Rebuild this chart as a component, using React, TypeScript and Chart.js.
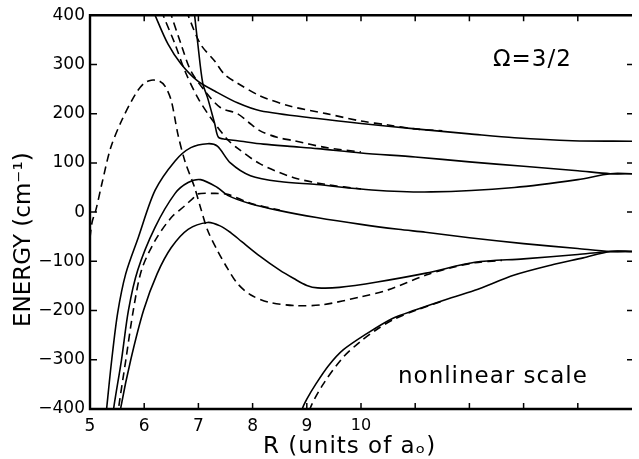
import React, { useEffect, useRef } from "react";
import { Chart, registerables } from "chart.js";

Chart.register(...registerables);

// x values are positions on the (nonlinear) R axis: 0 ↔ R=5, 1 ↔ 6, ... 5 ↔ 10, 10 ↔ R→∞
const xTickLabels = ["5", "6", "7", "8", "9", "10", "", "", "", "", ""];
const yMin = -400;
const yMax = 400;

// solid (adiabatic) curves
const s1X = [1.16, 1.2, 1.44, 1.68, 1.99, 2.3, 2.72, 3.14, 4.2, 5.0, 6.0, 7.0, 7.83, 8.9, 10];
const s1E = [412, 400, 341, 301, 266, 246, 222, 206, 190, 180, 169, 159, 151, 145, 144];

const s2X = [1.92, 1.99, 2.08, 2.17, 2.3, 2.37, 2.5, 2.72, 3.2, 3.76, 4.2, 5, 6, 7, 8, 9, 9.6, 10];
const s2E = [410, 341, 262, 232, 180, 152, 148, 145, 138, 133, 129, 120, 112, 102, 93, 84, 78, 78];

const s3X = [0.29, 0.31, 0.4, 0.51, 0.66, 0.89, 1.2, 1.57, 1.86, 2.17, 2.35, 2.59, 2.96, 3.5, 4.18, 5.2, 6.3, 7.83, 9.0, 9.6, 10];
const s3E = [-420, -396, -301, -205, -125, -52, 44, 104, 131, 139, 134, 100, 74, 62, 56, 45, 41, 50, 66, 78, 78];

const s4X = [0.42, 0.44, 0.58, 0.71, 0.88, 1.2, 1.57, 1.81, 2.04, 2.35, 2.54, 2.96, 3.5, 4.18, 5, 5.69, 6.19, 7, 8, 9, 9.6, 10];
const s4E = [-420, -396, -301, -199, -118, -31, 38, 60, 66, 50, 34, 17, 3, -11, -25, -35, -41, -52, -64, -74, -80, -80];

const s5X = [0.55, 0.57, 0.75, 0.99, 1.24, 1.5, 1.81, 2.17, 2.4, 2.6, 2.8, 3.14, 3.5, 3.76, 4.0, 4.2, 4.6, 5.3, 6.2, 7.1, 8, 9, 9.6, 10];
const s5E = [-420, -396, -301, -199, -125, -72, -35, -21, -28, -42, -60, -90, -118, -135, -149, -154, -153, -142, -124, -102, -95, -86, -80, -80];

const s6X = [3.88, 3.91, 4.0, 4.18, 4.4, 4.67, 5.09, 5.58, 6.0, 6.5, 7.1, 7.83, 8.5, 9.1, 9.6, 10];
const s6E = [-430, -402, -380, -347, -312, -280, -248, -216, -199, -180, -159, -128, -108, -93, -80, -80];

// dashed (diabatic) curves
const d0X = [0, 0.04, 0.11, 0.22, 0.38, 0.58, 0.84, 1.0, 1.13, 1.28, 1.39, 1.5, 1.62, 1.75, 1.93, 2.04, 2.17, 2.35, 2.54, 2.72, 2.96, 3.3, 3.8, 4.3, 5, 5.5, 6.2, 6.7, 7.1, 7.6];
const d0E = [-52, -20, 5, 58, 130, 185, 240, 262, 268, 266, 255, 226, 159, 104, 50, 9, -37, -78, -115, -145, -168, -183, -190, -188, -172, -158, -128, -112, -103, -98];

const d1X = [1.79, 1.81, 2.04, 2.3, 2.48, 2.72, 3.14, 3.7, 4.36, 5.0, 5.5, 6.0, 6.5];
const d1E = [410, 400, 341, 307, 280, 262, 236, 215, 200, 185, 177, 169, 165];

const d2X = [1.48, 1.5, 1.68, 1.86, 2.12, 2.41, 2.72, 2.93, 3.14, 3.45, 3.76, 4.36, 5.0];
const d2E = [410, 400, 341, 287, 246, 212, 200, 182, 165, 152, 145, 131, 122];

const d3X = [1.33, 1.35, 1.57, 1.75, 1.99, 2.23, 2.54, 2.72, 3.14, 3.76, 4.36, 5.0];
const d3E = [410, 400, 341, 287, 232, 191, 147, 130, 98, 70, 56, 47];

const d4X = [0.51, 0.53, 0.66, 0.8, 0.95, 1.2, 1.5, 1.75, 1.9, 1.99, 2.26, 2.54, 2.96, 3.5];
const d4E = [-420, -396, -301, -199, -118, -58, -11, 13, 28, 37, 38, 36, 18, 4];

const d6X = [4.03, 4.05, 4.3, 4.67, 5.0, 5.27, 5.6, 6.0, 6.5];
const d6E = [-430, -402, -350, -295, -262, -240, -218, -200, -181];

const curves = [
  { xs: s1X, ys: s1E, dashed: false },
  { xs: s2X, ys: s2E, dashed: false },
  { xs: s3X, ys: s3E, dashed: false },
  { xs: s4X, ys: s4E, dashed: false },
  { xs: s5X, ys: s5E, dashed: false },
  { xs: s6X, ys: s6E, dashed: false },
  { xs: d0X, ys: d0E, dashed: true },
  { xs: d1X, ys: d1E, dashed: true },
  { xs: d2X, ys: d2E, dashed: true },
  { xs: d3X, ys: d3E, dashed: true },
  { xs: d4X, ys: d4E, dashed: true },
  { xs: d6X, ys: d6E, dashed: true },
];

const FONT = '"DejaVu Sans", "Liberation Sans", sans-serif';

const framePlugin = {
  id: "frameAndText",
  afterDraw(chart: any) {
    const { ctx, chartArea } = chart;
    const { left, right, top, bottom } = chartArea;
    const xs = chart.scales.x;
    const ys = chart.scales.y;
    ctx.save();
    ctx.strokeStyle = "#000";
    ctx.lineWidth = 2.4;
    ctx.beginPath();
    ctx.moveTo(right, top);
    ctx.lineTo(left, top);
    ctx.lineTo(left, bottom);
    ctx.lineTo(right, bottom);
    ctx.stroke();

    ctx.lineWidth = 1.5;
    ctx.beginPath();
    for (let v = 1; v < 10; v++) {
      const px = xs.getPixelForValue(v);
      ctx.moveTo(px, bottom);
      ctx.lineTo(px, bottom - 6);
      ctx.moveTo(px, top);
      ctx.lineTo(px, top + 6);
    }
    for (let v = -300; v <= 300; v += 100) {
      const py = ys.getPixelForValue(v);
      ctx.moveTo(left, py);
      ctx.lineTo(left + 7, py);
      ctx.moveTo(right, py);
      ctx.lineTo(right - 5, py);
    }
    ctx.stroke();

    ctx.fillStyle = "#000";
    ctx.textAlign = "left";
    ctx.textBaseline = "alphabetic";
    ctx.font = `23px ${FONT}`;
    (ctx as any).letterSpacing = "1px";
    ctx.fillText("Ω=3/2", 493, 66);
    ctx.fillText("nonlinear scale", 398, 383);
    ctx.fillText("R (units of aₒ)", 263, 453);
    (ctx as any).letterSpacing = "0px";
    ctx.translate(30, 327);
    ctx.rotate(-Math.PI / 2);
    ctx.fillText("ENERGY (cm⁻¹)", 0, 0);
    ctx.restore();
  },
};

export default function App() {
  const canvasRef = useRef<HTMLCanvasElement | null>(null);

  useEffect(() => {
    if (!canvasRef.current) return;
    const datasets = curves.map((c) => ({
      data: c.xs.map((x, i) => ({ x, y: c.ys[i] })),
      borderColor: "#000",
      borderWidth: 1.6,
      borderDash: c.dashed ? [8, 5] : [],
      pointRadius: 0,
      fill: false,
      tension: 0.3,
    }));
    const chart = new Chart(canvasRef.current, {
      type: "line",
      data: { datasets },
      options: {
        responsive: false,
        animation: false,
        devicePixelRatio: 1,
        layout: { padding: { top: 14, right: 0, left: 0, bottom: 0 } },
        plugins: { legend: { display: false }, tooltip: { enabled: false } },
        scales: {
          x: {
            type: "linear",
            min: 0,
            max: 10,
            grid: { display: false, drawTicks: false },
            border: { display: false },
            afterFit: (s: any) => {
              s.height = 50;
            },
            ticks: {
              stepSize: 1,
              autoSkip: false,
              maxRotation: 0,
              padding: 7,
              color: "#000",
              font: (c: any) => ({ family: FONT, size: c.tick && c.tick.value === 5 ? 16 : 17 }),
              callback: (value: any) => xTickLabels[Math.round(Number(value))] ?? "",
            },
          },
          y: {
            min: yMin,
            max: yMax,
            grid: { display: false, drawTicks: false },
            border: { display: false },
            afterFit: (s: any) => {
              s.width = 90;
            },
            ticks: {
              stepSize: 100,
              padding: 5,
              color: "#000",
              font: { family: FONT, size: 17 },
              callback: (value: any) => {
                const n = Number(value);
                return n < 0 ? "−" + Math.abs(n) : String(n);
              },
            },
          },
        },
      },
      plugins: [framePlugin],
    });
    return () => chart.destroy();
  }, []);

  return (
    <div style={{ position: "fixed", left: 0, top: 0, width: 639, height: 459, background: "#fff" }}>
      <canvas ref={canvasRef} width={639} height={459} style={{ width: 639, height: 459, display: "block" }} />
    </div>
  );
}
